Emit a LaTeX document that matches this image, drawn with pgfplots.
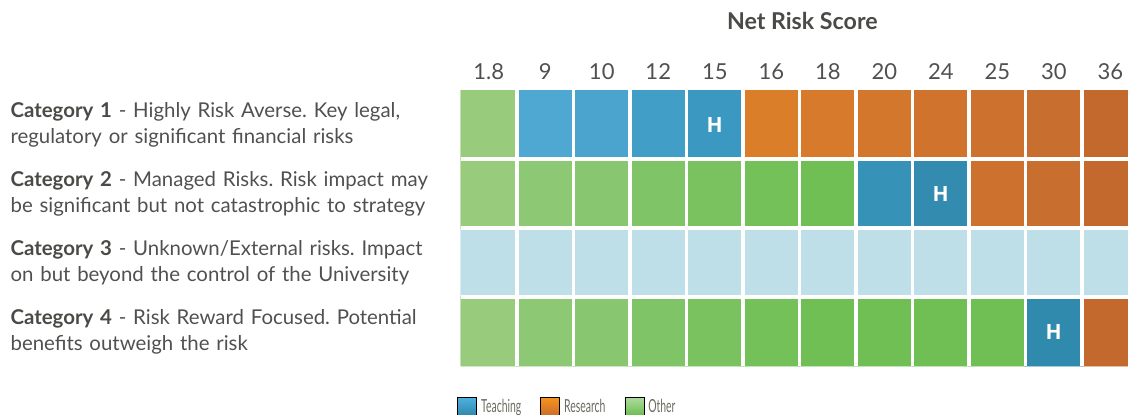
\documentclass[border=0pt]{standalone}
\usepackage{pgfplots}
\pgfplotsset{compat=1.18}
\usepackage{fontspec}
\setmainfont{Lato}
\newfontfamily\hfont{Open Sans}
\newfontfamily\legfont[FakeStretch=0.58]{Lato}
\definecolor{txt}{HTML}{505050}
\definecolor{bold}{HTML}{4A4A46}
\definecolor{legtxt}{HTML}{6B6B60}
\definecolor{tbA}{HTML}{4FB0E0}\definecolor{tbB}{HTML}{2C86A8}
\definecolor{rsA}{HTML}{F7941D}\definecolor{rsB}{HTML}{C86A2E}
\definecolor{otA}{HTML}{AEDB9E}\definecolor{otB}{HTML}{69BC4D}
\begin{document}
\frenchspacing
\begin{tikzpicture}
\begin{axis}[
  at={(230.25pt,24pt)}, anchor=south west,
  scale only axis, width=333.75pt, height=138pt,
  xmin=-0.5, xmax=11.314, ymin=-0.5, ymax=3.5, y dir=reverse,
  enlargelimits=false,
  clip mode=individual,
  axis line style={draw=none},
  major tick length=0pt, minor tick length=0pt,
  xtick={0,...,11},
  xticklabels={1.8,9,10,12,15,16,18,20,24,25,30,36},
  xticklabel pos=upper,
  xticklabel style={font=\fontsize{11}{13}\selectfont, text=txt, yshift=1.5pt},
  ytick={0,1,2,3},
  yticklabels={
    {\textcolor{bold}{\textbf{Category 1}} - Highly Risk Averse. Key legal,\\regulatory or significant financial risks},
    {\textcolor{bold}{\textbf{Category 2}} - Managed Risks. Risk impact may\\be significant but not catastrophic to strategy},
    {\textcolor{bold}{\textbf{Category 3}} - Unknown/External risks. Impact\\on but beyond the control of the University},
    {\textcolor{bold}{\textbf{Category 4}} - Risk Reward Focused. Potential\\benefits outweigh the risk}},
  yticklabel style={text width=222pt, align=left, inner sep=0pt, anchor=east, xshift=-2.75pt,
    font=\fontsize{10.2}{13}\selectfont, text=txt},
  minor xtick={0.5,1.5,...,10.5}, minor ytick={0.5,1.5,2.5},
  xminorgrids, yminorgrids,
  minor x grid style={white, line width=1.6pt},
  minor y grid style={white, line width=2pt},
  axis on top,
  colormap={cells}{
    rgb255=(152,204,124) rgb255=(141,201,117) rgb255=(136,199,112) rgb255=(128,196,104)
    rgb255=(122,194,96) rgb255=(116,192,89) rgb255=(112,191,85)
    rgb255=(78,168,209) rgb255=(74,164,206) rgb255=(64,158,199) rgb255=(59,152,193)
    rgb255=(55,146,184) rgb255=(51,140,176) rgb255=(47,138,174)
    rgb255=(219,126,42) rgb255=(215,122,43) rgb255=(211,119,44) rgb255=(208,116,45)
    rgb255=(204,113,46) rgb255=(200,110,47) rgb255=(196,105,46)
    rgb255=(190,223,231)},
  colormap access=direct,
  legend style={at={(-0.00524,-0.15)}, anchor=west, draw=none, fill=none,
    legend columns=3, font=\legfont\fontsize{9}{10}\selectfont, text=legtxt,
    inner xsep=0pt, inner ysep=0pt,
    /tikz/every even column/.append style={column sep=7.5pt}},
]
\addplot[matrix plot*, mesh/cols=12, point meta=explicit, forget plot] table[meta=c] {
x y c
0 0 0
1 0 7
2 0 8
3 0 9
4 0 10
5 0 14
6 0 15
7 0 16
8 0 17
9 0 18
10 0 19
11 0 20
0 1 0
1 1 1
2 1 2
3 1 3
4 1 4
5 1 5
6 1 6
7 1 11
8 1 12
9 1 18
10 1 19
11 1 20
0 2 21
1 2 21
2 2 21
3 2 21
4 2 21
5 2 21
6 2 21
7 2 21
8 2 21
9 2 21
10 2 21
11 2 21
0 3 0
1 3 1
2 3 2
3 3 3
4 3 4
5 3 5
6 3 6
7 3 6
8 3 6
9 3 6
10 3 13
11 3 20
};
\addplot[only marks, mark=none, point meta=explicit symbolic, forget plot,
  nodes near coords, nodes near coords align=center,
  every node near coord/.append style={font=\hfont\bfseries\fontsize{10.5}{12}\selectfont, text=white, anchor=center}]
  table[meta=t] {
x y t
4 0 H
8 1 H
10 3 H
};
\addlegendimage{legend image code/.code={\shade[top color=tbA, bottom color=tbB] (0pt,-4.5pt) rectangle (9.5pt,5pt);}}
\addlegendentry{Teaching}
\addlegendimage{legend image code/.code={\shade[top color=rsA, bottom color=rsB] (0pt,-4.5pt) rectangle (9.5pt,5pt);}}
\addlegendentry{Research}
\addlegendimage{legend image code/.code={\shade[top color=otA, bottom color=otB] (0pt,-4.5pt) rectangle (9.5pt,5pt);}}
\addlegendentry{Other}
\node[font=\bfseries\fontsize{11.6}{13}\selectfont, text=bold] at (axis cs:5.55,-0.5) [yshift=34.5pt] {Net Risk Score};
\end{axis}
\pgfresetboundingbox
\useasboundingbox (0,0) rectangle (564pt,207pt);
\end{tikzpicture}
\end{document}
